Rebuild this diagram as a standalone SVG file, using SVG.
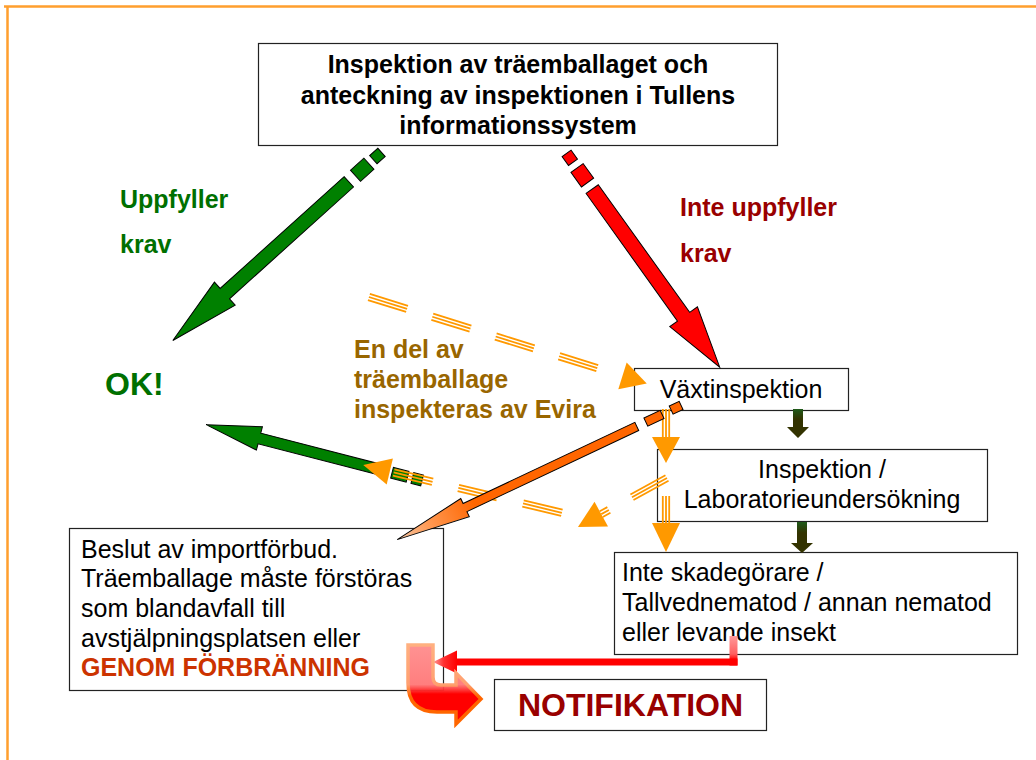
<svg xmlns="http://www.w3.org/2000/svg" width="1036" height="760" viewBox="0 0 1036 760">
<defs>
<style>
.box{fill:#fff;stroke:#222;stroke-width:1.2}
.r{font-family:"Liberation Sans",Arial,sans-serif;font-size:25px;fill:#000}
.b{font-family:"Liberation Sans",Arial,sans-serif;font-size:25px;font-weight:bold}
.c{text-anchor:middle}
.tri{stroke:#ff9900;stroke-width:1.8;fill:none}
.ora{fill:#ff9900}
.blk{stroke:#000;stroke-width:1}
</style>
<linearGradient id="uFill" gradientUnits="userSpaceOnUse" x1="0" y1="645" x2="0" y2="724">
<stop offset="0" stop-color="#ff7f7f" stop-opacity="0.85"/>
<stop offset="0.5" stop-color="#ff7070" stop-opacity="0.9"/>
<stop offset="0.62" stop-color="#ff0000"/>
<stop offset="1" stop-color="#ff0000"/>
</linearGradient>
<linearGradient id="uStroke" gradientUnits="userSpaceOnUse" x1="0" y1="645" x2="0" y2="724">
<stop offset="0" stop-color="#ffb080"/>
<stop offset="0.5" stop-color="#ffa070"/>
<stop offset="0.65" stop-color="#ff6600"/>
<stop offset="1" stop-color="#ff6600"/>
</linearGradient>
<linearGradient id="vRed" gradientUnits="userSpaceOnUse" x1="0" y1="636" x2="0" y2="666">
<stop offset="0" stop-color="#ff9a9a"/>
<stop offset="0.6" stop-color="#ff6060"/>
<stop offset="0.8" stop-color="#ff0000"/>
</linearGradient>
<linearGradient id="hRed" gradientUnits="userSpaceOnUse" x1="433" y1="0" x2="457" y2="0">
<stop offset="0" stop-color="#ff9a9a"/>
<stop offset="0.45" stop-color="#ff3030"/>
<stop offset="1" stop-color="#ff0000"/>
</linearGradient>
<linearGradient id="oGrad" gradientUnits="userSpaceOnUse" x1="230" y1="0" x2="315" y2="0">
<stop offset="0" stop-color="#ff6600"/>
<stop offset="0.6" stop-color="#ff9a55"/>
<stop offset="1" stop-color="#f2c8a8"/>
</linearGradient>
<linearGradient id="dg" x1="0" y1="0" x2="0" y2="1">
<stop offset="0" stop-color="#1f5a1a"/>
<stop offset="0.35" stop-color="#333300"/>
<stop offset="1" stop-color="#333300"/>
</linearGradient>
</defs>

<rect width="1036" height="760" fill="#fff"/>
<path d="M4,6.5 H1036 M7.5,6 V760" stroke="#ff9f2e" stroke-width="2.5" fill="none"/>

<g id="labels">
<text class="b" x="120" y="208" fill="#007000">Uppfyller</text>
<text class="b" x="120" y="253" fill="#007000">krav</text>
<text class="b" x="680" y="216" fill="#990000">Inte uppfyller</text>
<text class="b" x="680" y="262" fill="#990000">krav</text>
<text class="b" x="105" y="395" fill="#007000" style="font-size:32px">OK!</text>
<text class="b" x="354" y="358" fill="#996600">En del av</text>
<text class="b" x="354" y="388" fill="#996600">träemballage</text>
<text class="b" x="354" y="418" fill="#996600">inspekteras av Evira</text>
</g>

<g id="node-top">
<rect class="box" x="258.5" y="43.5" width="519" height="102"/>
<text class="b c" x="518" y="73">Inspektion av träemballaget och</text>
<text class="b c" x="518" y="104">anteckning av inspektionen i Tullens</text>
<text class="b c" x="518" y="134">informationssystem</text>
</g>

<g id="node-vaxt">
<rect class="box" x="634.5" y="368.5" width="214" height="42"/>
<text class="r c" x="741" y="398">Växtinspektion</text>
</g>

<g id="node-lab">
<rect class="box" x="657.5" y="449.5" width="330" height="72"/>
<text class="r c" x="822" y="478">Inspektion /</text>
<text class="r c" x="822" y="508">Laboratorieundersökning</text>
</g>

<g id="node-skade">
<rect class="box" x="614.5" y="552.5" width="403" height="102"/>
<text class="r" x="622" y="581">Inte skadegörare /</text>
<text class="r" x="622" y="610.5">Tallvednematod / annan nematod</text>
<text class="r" x="622" y="640.5">eller levande insekt</text>
</g>

<g id="node-beslut">
<rect class="box" x="69.5" y="528.5" width="374" height="162"/>
<text class="r" x="81" y="557.5">Beslut av importförbud.</text>
<text class="r" x="81" y="587">Träemballage måste förstöras</text>
<text class="r" x="81" y="616.5">som blandavfall till</text>
<text class="r" x="81" y="646.5">avstjälpningsplatsen eller</text>
<text class="b" x="81" y="676" fill="#cc3300">GENOM FÖRBRÄNNING</text>
</g>

<g id="node-notif">
<rect class="box" x="494.5" y="679.5" width="272" height="51"/>
<text class="b c" x="630.5" y="716" fill="#990000" style="font-size:32px">NOTIFIKATION</text>
</g>

<g id="connectors">
<!-- green: Uppfyller krav -> OK -->
<g transform="translate(383,151) rotate(137.96)" fill="#008000" class="blk">
<rect x="2" y="-5.5" width="11" height="11"/>
<rect x="19" y="-7.5" width="18" height="15"/>
<polygon points="46,-7 213,-7 213,-15.5 283,0 213,15.5 213,7 46,7"/>
</g>
<!-- red: Inte uppfyller -> Växtinspektion -->
<g transform="translate(566,152.5) rotate(54.4)" fill="#ff0000" class="blk">
<rect x="1" y="-5.5" width="11" height="11"/>
<rect x="19" y="-7.5" width="18" height="15"/>
<polygon points="45,-7.5 202,-7.5 202,-17 264,0 202,17 202,7.5 45,7.5"/>
</g>
<!-- Evira dashed arrow -> Växtinspektion -->
<g transform="translate(368.9,297) rotate(17.3)">
<g class="tri" stroke-dasharray="40 26.4">
<line x1="0" y1="-3.2" x2="239.3" y2="-3.2"/>
<line x1="0" y1="0" x2="239.3" y2="0"/>
<line x1="0" y1="3.2" x2="239.3" y2="3.2"/>
</g>
<polygon class="ora" points="265.6,-14 291,0 265.6,14"/>
</g>
<!-- dark green block arrows -->
<polygon fill="url(#dg)" points="793,409 803,409 803,427 809,427 798,438 787,427 793,427"/>
<polygon fill="url(#dg)" points="797,522 807,522 807,543 813,543 802,553 791,543 797,543"/>
<!-- orange vertical arrows -->
<g class="tri">
<line x1="662.8" y1="409" x2="662.8" y2="438"/>
<line x1="666" y1="409" x2="666" y2="438"/>
<line x1="669.2" y1="409" x2="669.2" y2="438"/>
<line x1="662.8" y1="496" x2="662.8" y2="524"/>
<line x1="666" y1="496" x2="666" y2="524"/>
<line x1="669.2" y1="496" x2="669.2" y2="524"/>
</g>
<polygon class="ora" points="652,437 680,437 666,463"/>
<polygon class="ora" points="652,523 680,523 666,552"/>
<!-- green: -> OK (lower) -->
<g transform="translate(424,481) rotate(194.5)" fill="#008000" class="blk">
<rect x="2" y="-5.5" width="10" height="11"/>
<rect x="17" y="-5.5" width="16" height="11"/>
<polygon points="40,-5.5 170,-5.5 170,-12 225,0 170,12 170,5.5 40,5.5"/>
</g>
<!-- orange dashed arrow Inspektion -> left -->
<g transform="translate(667,478) rotate(151.2)">
<g class="tri" stroke-dasharray="40 26.3">
<line x1="0" y1="-3.2" x2="75" y2="-3.2"/>
<line x1="0" y1="0" x2="75" y2="0"/>
<line x1="0" y1="3.2" x2="75" y2="3.2"/>
</g>
<polygon class="ora" points="75,-14 101.6,0 75,14"/>
</g>
<!-- orange dashed arrow -> OK -->
<g transform="translate(561.9,512.8) rotate(193.5)">
<g class="tri" stroke-dasharray="40 26.5">
<line x1="0" y1="-3.2" x2="177" y2="-3.2"/>
<line x1="0" y1="0" x2="177" y2="0"/>
<line x1="0" y1="3.2" x2="177" y2="3.2"/>
</g>
<polygon class="ora" points="177,-13.3 204.3,0 177,13.3"/>
</g>
<!-- dark orange: Växtinspektion -> Beslut -->
<g transform="translate(682,405) rotate(154.7)" class="blk">
<rect x="1" y="-4.5" width="11" height="9" fill="#ff6600"/>
<rect x="22" y="-4.5" width="18" height="9" fill="#ff6600"/>
<polygon fill="url(#oGrad)" points="50,-4.5 240,-4.5 240,-10 315,0 240,10 240,4.5 50,4.5"/>
</g>
<!-- red L arrow -> Beslut -->
<rect x="729.5" y="636" width="8" height="29.5" fill="url(#vRed)"/>
<rect x="455" y="658.5" width="282.5" height="7" fill="#ff0000"/>
<polygon fill="url(#hRed)" points="433,662 457,650.5 457,673.5"/>
<!-- U-turn arrow -> NOTIFIKATION -->
<path d="M408,645 V683 Q408,712 437,712 H456 V724 L481,699 L456,673 V685 H441 Q433,685 433,677 V645 Z" fill="url(#uFill)" stroke="url(#uStroke)" stroke-width="3.5" stroke-linejoin="miter"/>
</g>
</svg>
